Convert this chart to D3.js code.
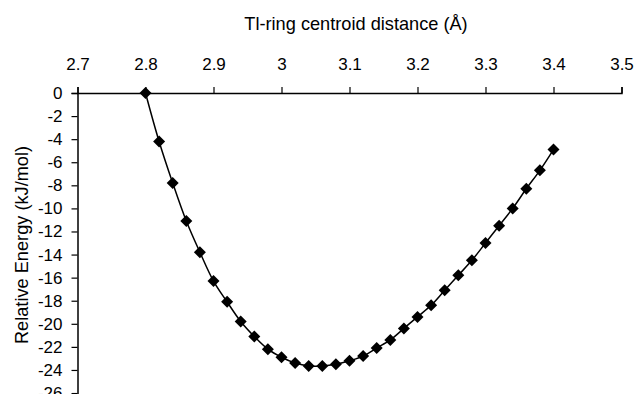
<!DOCTYPE html>
<html>
<head>
<meta charset="utf-8">
<script src="https://cdn.jsdelivr.net/npm/d3@7"></script>
<style>
	body { margin: 0; background: #fff; }
	svg { display: block; font-family: 'Liberation Sans', Arial, sans-serif; }
</style>
</head>
<body>
<script>
	'use strict';

	// Tl-ring centroid distance (A)
	var distance = [2.80, 2.82, 2.84, 2.86, 2.88, 2.90, 2.92, 2.94, 2.96, 2.98,
		3.00, 3.02, 3.04, 3.06, 3.08, 3.10, 3.12, 3.14, 3.16, 3.18,
		3.20, 3.22, 3.24, 3.26, 3.28, 3.30, 3.32, 3.34, 3.36, 3.38, 3.40];
	// relative energy (kJ/mol)
	var energy = [0, -4.2, -7.8, -11.1, -13.8, -16.3, -18.1, -19.8, -21.1, -22.2,
		-22.9, -23.4, -23.65, -23.65, -23.5, -23.2, -22.8, -22.1, -21.4, -20.4,
		-19.4, -18.4, -17.1, -15.8, -14.5, -13.0, -11.5, -10.0, -8.3, -6.7, -4.9];
	var xTicks = [2.7, 2.8, 2.9, 3.0, 3.1, 3.2, 3.3, 3.4, 3.5];
	var yTicks = [0, -2, -4, -6, -8, -10, -12, -14, -16, -18, -20, -22, -24, -26, -28, -30];

	var width = 637, height = 394;
	var svg = d3.select('body').append('svg')
		.attr('width', width).attr('height', height);

	var x = d3.scaleLinear().domain([2.7, 3.5]).range([77.5, 621.5]);
	var y = d3.scaleLinear().domain([0, -30]).range([93, 93 + 30 * 11.54]);

	var xAxis = svg.append('g')
		.attr('transform', 'translate(0,' + y(0) + ')')
		.call(d3.axisTop(x).tickValues(xTicks).tickSize(6).tickPadding(17)
			.tickFormat(function(d) { return d === 3 ? '3' : d3.format('.1f')(d); }));
	var yAxis = svg.append('g')
		.attr('transform', 'translate(' + x(2.7) + ',0)')
		.call(d3.axisLeft(y).tickValues(yTicks).tickSize(6).tickPadding(9)
			.tickFormat(function(d) { return d3.format('d')(d).replace('\u2212', '-'); }));

	[xAxis, yAxis].forEach(function(g) {
		g.attr('font-size', 17).attr('font-family', null);
		g.select('.domain').attr('stroke', '#000').attr('stroke-width', 1.5);
		g.selectAll('.tick line').attr('stroke', '#000').attr('stroke-width', 1.2);
		g.selectAll('.tick text').attr('fill', '#000');
	});

	svg.append('text')
		.attr('x', 356).attr('y', 30)
		.attr('text-anchor', 'middle')
		.attr('font-size', 18.2)
		.text('Tl-ring centroid distance (\u00C5)');

	svg.append('text')
		.attr('transform', 'translate(28,245) rotate(-90)')
		.attr('text-anchor', 'middle')
		.attr('font-size', 18.2)
		.text('Relative Energy (kJ/mol)');

	var pts = distance.map(function(d, i) { return [d, energy[i]]; });

	svg.append('path')
		.datum(pts)
		.attr('fill', 'none')
		.attr('stroke', '#000')
		.attr('stroke-width', 1.5)
		.attr('d', d3.line()
			.x(function(d) { return x(d[0]); })
			.y(function(d) { return y(d[1]); })
			.curve(d3.curveCatmullRom));

	svg.append('g').selectAll('path')
		.data(pts)
		.join('path')
		.attr('transform', function(d) { return 'translate(' + x(d[0]) + ',' + y(d[1]) + ')'; })
		.attr('d', 'M0,-6L6,0L0,6L-6,0Z')
		.attr('fill', '#000');
</script>
</body>
</html>
